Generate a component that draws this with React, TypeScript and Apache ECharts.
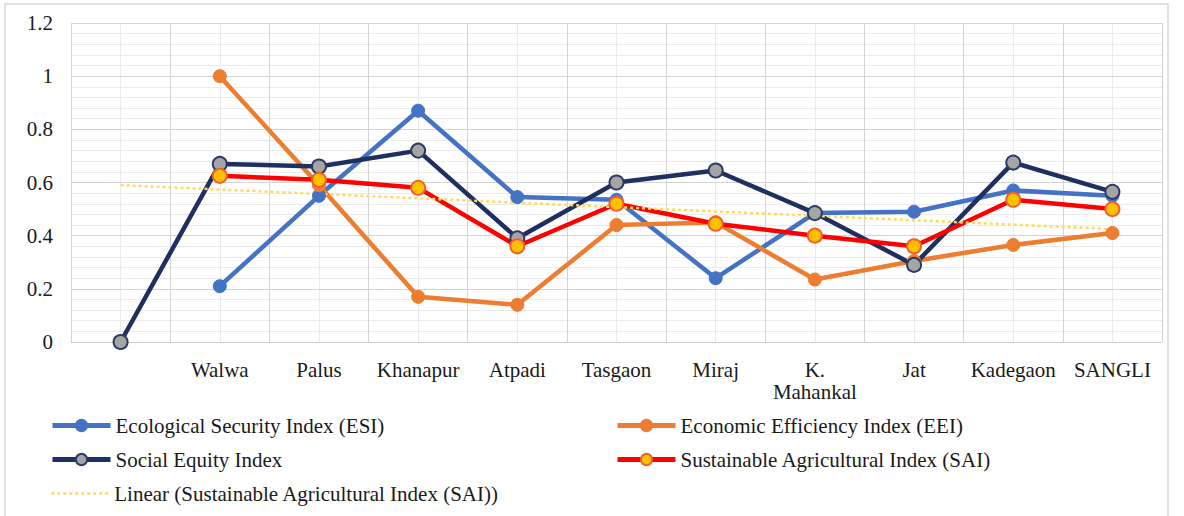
import React, { useEffect, useRef } from "react";
import * as echarts from "echarts";

const categories = ["", "Walwa", "Palus", "Khanapur", "Atpadi", "Tasgaon", "Miraj", "K. Mahankal", "Jat", "Kadegaon", "SANGLI"];
const esiValues = [null, 0.21, 0.55, 0.87, 0.545, 0.535, 0.24, 0.485, 0.49, 0.57, 0.55];
const eeiValues = [null, 1.0, 0.59, 0.17, 0.14, 0.44, 0.45, 0.235, 0.305, 0.365, 0.41];
const socialValues = [0, 0.67, 0.66, 0.72, 0.39, 0.6, 0.645, 0.485, 0.29, 0.675, 0.565];
const saiValues = [null, 0.625, 0.61, 0.58, 0.36, 0.52, 0.445, 0.40, 0.36, 0.535, 0.50];
const trendValues = [0.59, null, null, null, null, null, null, null, null, null, 0.425];
const yTicks = [0, 0.2, 0.4, 0.6, 0.8, 1, 1.2];

const seriesNames = [
  "Ecological Security Index (ESI)",
  "Economic Efficiency Index (EEI)",
  "Social Equity Index",
  "Sustainable Agricultural Index (SAI)",
  "Linear (Sustainable Agricultural Index (SAI))",
];

const FONT = "Liberation Serif";

export default function App() {
  const ref = useRef<HTMLDivElement>(null);
  useEffect(() => {
    document.body.style.margin = "0";
    const chart = echarts.init(ref.current!, null, { renderer: "svg" });
    const legendPos = [
      { left: 50, top: 415 },
      { left: 615, top: 415 },
      { left: 50, top: 449 },
      { left: 615, top: 449 },
      { left: 50, top: 483 },
    ];
    const option: any = {
      animation: false,
      backgroundColor: "#ffffff",
      textStyle: { fontFamily: FONT },
      graphic: [
        {
          type: "rect",
          shape: { x: 5, y: 4, width: 1163, height: 530 },
          style: { fill: "none", stroke: "#d9d9d9", lineWidth: 1.5 },
          silent: true,
          z: -10,
        },
      ],
      legend: legendPos.map((p, i) => ({
        data: [
          i === 4
            ? { name: seriesNames[i], itemStyle: { opacity: 0 } }
            : { name: seriesNames[i] },
        ],
        left: p.left,
        top: p.top,
        padding: 0,
        itemWidth: 58,
        itemHeight: 14,
        itemGap: 4,
        selectedMode: false,
        lineStyle: { width: i === 4 ? 2.5 : 5 },
        textStyle: { fontFamily: FONT, fontSize: 21, color: "#1a1a1a" },
      })),
      grid: { left: 71, right: 22, top: 23, bottom: 174, containLabel: false },
      xAxis: [
        {
          type: "category",
          data: categories,
          boundaryGap: true,
          axisLine: { lineStyle: { color: "#cfcfcf", width: 1 } },
          axisTick: { show: false },
          splitLine: { show: true, lineStyle: { color: "#d4d4d4", width: 1 } },
          axisLabel: {
            interval: 0,
            margin: 17,
            fontFamily: FONT,
            fontSize: 21,
            color: "#1a1a1a",
            lineHeight: 22,
            formatter: (v: string) => v.replace("K. ", "K.\n"),
          },
        },
        {
          type: "value",
          min: 0,
          max: 22,
          interval: 1,
          show: true,
          axisLine: { show: false },
          axisTick: { show: false },
          axisLabel: { show: false },
          splitLine: { show: true, lineStyle: { color: "#ebebeb", width: 1 } },
          z: -1,
        },
      ],
      yAxis: {
        type: "value",
        min: 0,
        max: 1.2,
        interval: 0.2,
        axisLine: { show: false },
        axisTick: { show: false },
        splitLine: { show: true, lineStyle: { color: "#d4d4d4", width: 1 } },
        minorTick: { show: false, splitNumber: 5 },
        minorSplitLine: { show: true, lineStyle: { color: "#ebebeb", width: 1 } },
        axisLabel: {
          margin: 18,
          fontFamily: FONT,
          fontSize: 21,
          color: "#1a1a1a",
          formatter: (v: number) => {
            const t = yTicks.find((k) => Math.abs(k - v) < 1e-6);
            return t === undefined ? "" : String(t);
          },
        },
      },
      series: [
        {
          name: seriesNames[0],
          type: "line",
          data: esiValues,
          symbol: "circle",
          symbolSize: 13,
          lineStyle: { color: "#4472c4", width: 4.5 },
          itemStyle: { color: "#4472c4", borderColor: "#4472c4", borderWidth: 1 },
        },
        {
          name: seriesNames[1],
          type: "line",
          data: eeiValues,
          symbol: "circle",
          symbolSize: 13,
          lineStyle: { color: "#ed7d31", width: 4.5 },
          itemStyle: { color: "#ed7d31", borderColor: "#ed7d31", borderWidth: 1 },
        },
        {
          name: seriesNames[2],
          type: "line",
          data: socialValues,
          symbol: "circle",
          symbolSize: 14,
          lineStyle: { color: "#1f2f60", width: 4.5 },
          itemStyle: { color: "#a5a5a5", borderColor: "#2b3a66", borderWidth: 2 },
        },
        {
          name: seriesNames[3],
          type: "line",
          data: saiValues,
          symbol: "circle",
          symbolSize: 14,
          lineStyle: { color: "#ff0000", width: 4.5 },
          itemStyle: { color: "#ffc000", borderColor: "#f2602a", borderWidth: 2 },
        },
        {
          name: seriesNames[4],
          type: "line",
          data: trendValues,
          connectNulls: true,
          symbol: "none",
          lineStyle: { color: "#ffd966", width: 2.5, type: [3, 3] },
          itemStyle: { color: "#ffd966" },
        },
      ],
    };
    chart.setOption(option);
    return () => chart.dispose();
  }, []);
  return <div ref={ref} style={{ width: 1184, height: 516 }} />;
}
